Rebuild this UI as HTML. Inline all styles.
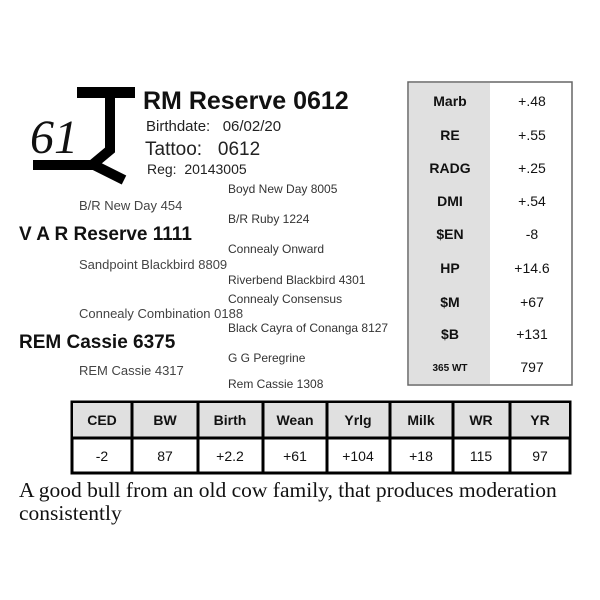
<!DOCTYPE html>
<html><head><meta charset="utf-8"><style>
body{margin:0;width:600px;height:600px;background:#fff;position:relative;overflow:hidden;font-family:"Liberation Sans",sans-serif;color:#222}
.t{position:absolute;white-space:nowrap;line-height:1}
.p{font-size:12px;color:#333}
.m{font-size:13px;color:#444}
.b{font-weight:bold;color:#111}
</style></head><body>
<svg width="600" height="600" style="position:absolute;left:0;top:0">
<rect x="77" y="87" width="58" height="11" fill="#000"/>
<polyline points="110,87 110,150 92,165 33,165" fill="none" stroke="#000" stroke-width="10" stroke-linejoin="miter"/>
<line x1="92" y1="164" x2="124" y2="180" stroke="#000" stroke-width="10"/>
<text x="30" y="153" font-family="Liberation Serif" font-style="italic" font-size="48" fill="#111">61</text>
<rect x="408" y="82" width="164" height="303" fill="#fff" stroke="#666" stroke-width="1.5"/>
<rect x="409" y="83" width="81" height="301" fill="#e0e0e0"/>
<g font-family="Liberation Sans" font-size="14" text-anchor="middle" fill="#111">
<text x="450" y="106" font-weight="bold">Marb</text><text x="532" y="106">+.48</text>
<text x="450" y="140" font-weight="bold">RE</text><text x="532" y="140">+.55</text>
<text x="450" y="173" font-weight="bold">RADG</text><text x="532" y="173">+.25</text>
<text x="450" y="206" font-weight="bold">DMI</text><text x="532" y="206">+.54</text>
<text x="450" y="239" font-weight="bold">$EN</text><text x="532" y="239">-8</text>
<text x="450" y="273" font-weight="bold">HP</text><text x="532" y="273">+14.6</text>
<text x="450" y="307" font-weight="bold">$M</text><text x="532" y="307">+67</text>
<text x="450" y="339" font-weight="bold">$B</text><text x="532" y="339">+131</text>
<text x="450" y="371" font-weight="bold" font-size="10">365 WT</text><text x="532" y="372">797</text>
</g>
<rect x="72" y="402" width="498" height="71" fill="#fff" stroke="#000" stroke-width="3"/>
<rect x="73" y="403" width="496" height="35" fill="#e0e0e0"/>
<line x1="72" y1="438" x2="570" y2="438" stroke="#000" stroke-width="3"/>
<g stroke="#000" stroke-width="3">
<line x1="132" y1="402" x2="132" y2="473"/><line x1="198" y1="402" x2="198" y2="473"/>
<line x1="263" y1="402" x2="263" y2="473"/><line x1="327" y1="402" x2="327" y2="473"/>
<line x1="390" y1="402" x2="390" y2="473"/><line x1="453" y1="402" x2="453" y2="473"/>
<line x1="510" y1="402" x2="510" y2="473"/></g>
<g font-family="Liberation Sans" font-size="14" text-anchor="middle" fill="#111">
<g font-weight="bold"><text x="102" y="425">CED</text><text x="165" y="425">BW</text><text x="230" y="425">Birth</text><text x="295" y="425">Wean</text><text x="358" y="425">Yrlg</text><text x="421" y="425">Milk</text><text x="481" y="425">WR</text><text x="540" y="425">YR</text></g>
<text x="102" y="461">-2</text><text x="165" y="461">87</text><text x="230" y="461">+2.2</text><text x="295" y="461">+61</text><text x="358" y="461">+104</text><text x="421" y="461">+18</text><text x="481" y="461">115</text><text x="540" y="461">97</text>
</g>
</svg>
<div class="t b" style="left:143px;top:89px;font-size:25px">RM Reserve 0612</div>
<div class="t" style="left:146px;top:119px;font-size:15px">Birthdate:&nbsp;&nbsp; 06/02/20</div>
<div class="t" style="left:145px;top:140px;font-size:19px">Tattoo:&nbsp;&nbsp; 0612</div>
<div class="t" style="left:147px;top:162px;font-size:14px">Reg:&nbsp; 20143005</div>
<div class="t p" style="left:228px;top:183px">Boyd New Day 8005</div>
<div class="t m" style="left:79px;top:199px">B/R New Day 454</div>
<div class="t p" style="left:228px;top:213px">B/R Ruby 1224</div>
<div class="t b" style="left:19px;top:225px;font-size:19px">V A R Reserve 1111</div>
<div class="t p" style="left:228px;top:243px">Connealy Onward</div>
<div class="t m" style="left:79px;top:258px">Sandpoint Blackbird 8809</div>
<div class="t p" style="left:228px;top:274px">Riverbend Blackbird 4301</div>
<div class="t p" style="left:228px;top:293px">Connealy Consensus</div>
<div class="t m" style="left:79px;top:307px">Connealy Combination 0188</div>
<div class="t p" style="left:228px;top:322px">Black Cayra of Conanga 8127</div>
<div class="t b" style="left:19px;top:333px;font-size:19px">REM Cassie 6375</div>
<div class="t p" style="left:228px;top:352px">G G Peregrine</div>
<div class="t m" style="left:79px;top:364px">REM Cassie 4317</div>
<div class="t p" style="left:228px;top:378px">Rem Cassie 1308</div>
<div class="t" style="left:19px;top:479px;font-family:'Liberation Serif',serif;font-size:21.5px;color:#111;line-height:23px">A good bull from an old cow family, that produces moderation<br>consistently</div>
</body></html>
